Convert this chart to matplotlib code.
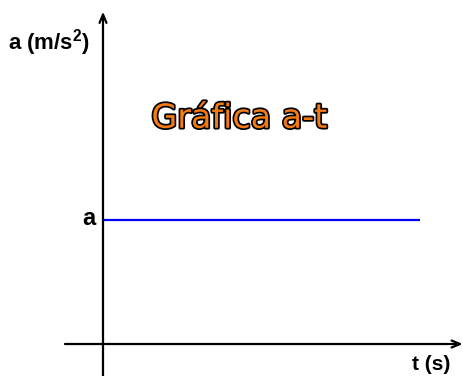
import matplotlib
matplotlib.use("Agg")
import matplotlib.pyplot as plt
import matplotlib.patheffects as pe

plt.rcParams["mathtext.default"] = "regular"

# Constant acceleration vs time
t_vals = [0, 10]
a_vals = [1, 1]

title = "Gráfica a-t"
y_label = r"a (m/s$^2$)"
x_label = "t (s)"
level_label = "a"

fig = plt.figure(figsize=(4.63, 3.76), dpi=100)
ax = fig.add_axes([0, 0, 1, 1])
ax.set_xlim(-3.249, 11.356)
ax.set_ylim(-0.258, 2.774)
ax.axis("off")

arrow = dict(arrowstyle="->,head_length=0.6,head_width=0.25", color="black", lw=1.6,
             shrinkA=0, shrinkB=0)
# horizontal time axis
ax.annotate("", xy=(11.35, 0), xytext=(-1.2, 0), arrowprops=arrow)
# vertical acceleration axis
ax.annotate("", xy=(0, 2.68), xytext=(0, -0.26), arrowprops=arrow)

ax.plot(t_vals, a_vals, color="#0000ff", lw=1.6, solid_capstyle="butt")

font = ["Liberation Sans", "DejaVu Sans"]
ax.text(-0.25, a_vals[0] + 0.01, level_label, ha="right", va="center", fontsize=17,
        fontweight="bold", family=font)
ax.text(-3.0, 2.43, y_label, ha="left", va="center", fontsize=16,
        fontweight="bold", family=font)
ax.text(10.95, -0.165, x_label, ha="right", va="center", fontsize=15,
        fontweight="bold", family=font)

ax.text(4.3, 1.82, title, ha="center", va="center", fontsize=24,
        color="#f57a10", family="DejaVu Sans",
        path_effects=[pe.withStroke(linewidth=2.5, foreground="black")])

fig.savefig("out.png", dpi=100, facecolor="white")
